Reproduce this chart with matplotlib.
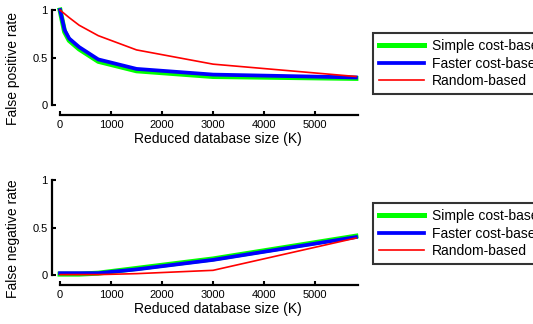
import matplotlib
matplotlib.use("Agg")
import matplotlib.pyplot as plt

plt.rcParams['font.family'] = ['Liberation Sans', 'DejaVu Sans']

# reduced database size (K)
sizes = [0, 90, 180, 375, 750, 1500, 3000, 5800]

# false positive rate
fp_simple = [1.0, 0.77, 0.68, 0.59, 0.46, 0.36, 0.30, 0.28]
fp_faster = [1.0, 0.79, 0.70, 0.61, 0.48, 0.38, 0.32, 0.29]
fp_random = [1.0, 0.96, 0.92, 0.84, 0.73, 0.58, 0.43, 0.30]

# false negative rate
fn_simple = [0.01, 0.01, 0.01, 0.01, 0.02, 0.07, 0.17, 0.41]
fn_faster = [0.02, 0.02, 0.02, 0.02, 0.02, 0.06, 0.16, 0.40]
fn_random = [0.005, 0.005, 0.005, 0.005, 0.005, 0.015, 0.05, 0.39]

labels = ['Simple cost-based', 'Faster cost-based', 'Random-based']
xticks = [0, 1000, 2000, 3000, 4000, 5000]
yticks = [0, 0.5, 1]


def draw(ax, simple, faster, rand, ylabel, legend_y):
    ax.plot(sizes, simple, color='#00ff00', lw=3.6, clip_on=False, label=labels[0])
    ax.plot(sizes, faster, color='#0000ff', lw=2.7, clip_on=False, label=labels[1])
    ax.plot(sizes, rand, color='#ff0000', lw=1.2, clip_on=False, label=labels[2])

    ax.set_xlim(0, 5840)
    ax.set_ylim(0, 1)
    ax.set_xticks(xticks)
    ax.set_yticks(yticks)
    ax.set_yticklabels(['0', '0.5', '1'])

    for s in ['top', 'right']:
        ax.spines[s].set_visible(False)
    ax.spines['left'].set_position(('outward', 6))
    ax.spines['bottom'].set_position(('outward', 7))
    ax.spines['left'].set_linewidth(1.6)
    ax.spines['bottom'].set_linewidth(1.6)
    ax.tick_params(direction='in', length=3, width=1.5, labelsize=8, pad=3)
    ax.tick_params(axis='x', pad=4)

    ax.set_xlabel('Reduced database size (K)', fontsize=10)
    ax.set_ylabel(ylabel, fontsize=10)
    ax.xaxis.set_label_coords(0.53, -0.285)
    ax.yaxis.set_label_coords(-0.135, 0.38)

    ax.legend(loc='upper left', bbox_to_anchor=(0.70, legend_y),
              bbox_transform=fig.transFigure, fontsize=10, frameon=True,
              fancybox=False, edgecolor='black', handlelength=3.2,
              handletextpad=0.6, labelspacing=0.25, borderpad=0.45,
              borderaxespad=0)
    ax.get_legend().get_frame().set_linewidth(1.5)


fig = plt.figure(figsize=(5.33, 3.24), dpi=100)
ax1 = fig.add_axes([0.1126, 0.676, 0.559, 0.293])
ax2 = fig.add_axes([0.1126, 0.151, 0.559, 0.293])

draw(ax1, fp_simple, fp_faster, fp_random, 'False positive rate', 0.898)
draw(ax2, fn_simple, fn_faster, fn_random, 'False negative rate', 0.3735)

fig.savefig('out.png', dpi=100)
